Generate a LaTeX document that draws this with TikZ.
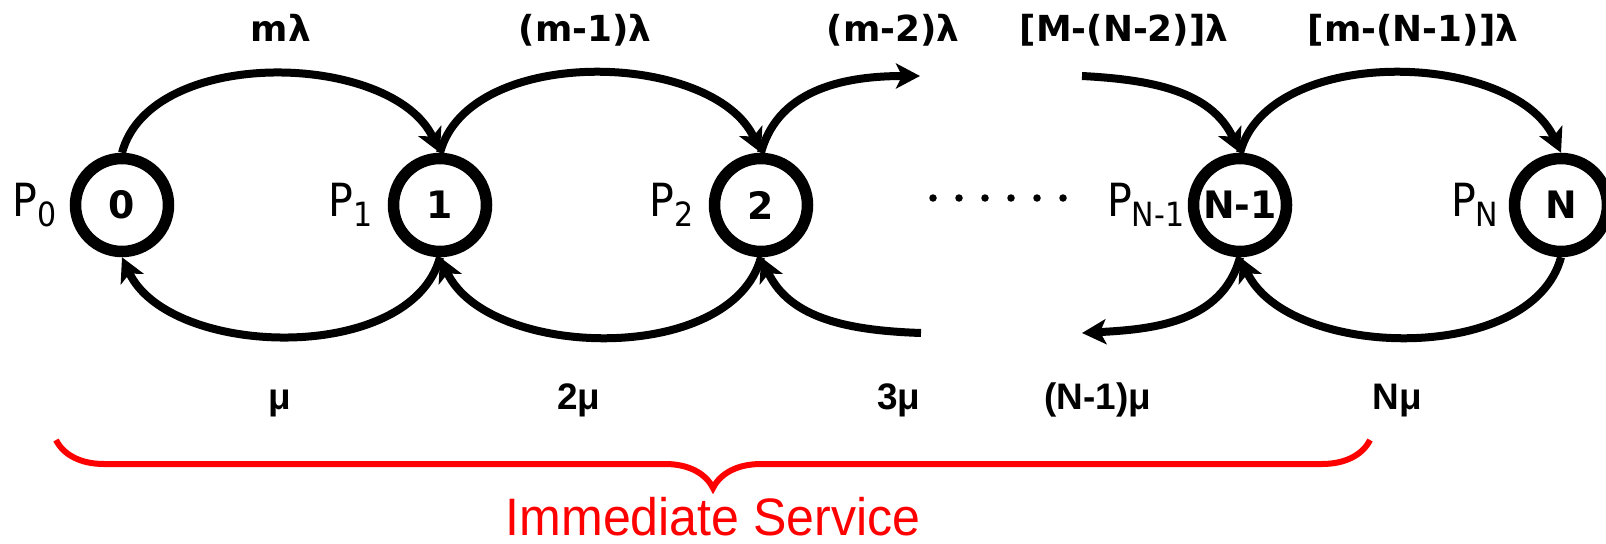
\documentclass[tikz,border=0pt]{standalone}
\usepackage{fontspec}
\setmainfont{DejaVu Sans}
\newfontfamily\labelfam{DejaVu Sans}[FakeStretch=0.9]
\newfontfamily\ratefam{Liberation Sans}
\newfontfamily\servicefam{Liberation Sans}[FakeStretch=0.95]
\usetikzlibrary{arrows.meta, positioning, decorations.pathreplacing}

\newcommand{\statefont}{\fontsize{21.5}{24}\selectfont\bfseries}
\newcommand{\probfont}{\fontsize{26}{28}\selectfont\labelfam}
\newcommand{\lamfont}{\fontsize{20.4}{24}\selectfont\bfseries}
\newcommand{\mufont}{\fontsize{21}{24}\selectfont\ratefam\bfseries}
\newcommand{\servicefont}{\fontsize{30}{34}\selectfont\servicefam}
\newcommand{\pstate}[1]{P\raisebox{-0.22em}{\fontsize{19}{21}\selectfont #1}}

\begin{document}
\begin{tikzpicture}[x=0.2mm, y=0.2mm,
		state/.style = {draw, circle, line width=2.3mm, minimum size=18.6mm, inner sep=0pt, font=\statefont},
		prob/.style = {inner sep=0pt, font=\probfont},
		lamrate/.style = {anchor=base, inner sep=0pt, font=\lamfont},
		murate/.style = {anchor=base, inner sep=0pt, font=\mufont},
		gapdot/.style = {circle, fill, inner sep=0pt, minimum size=1.5mm},
		trans/.style = {->, line width=1.6mm},
		brace/.style = {red, line width=1.2mm, decorate, decoration={brace, mirror, amplitude=9.6mm}},
		>={Stealth[length=4.8mm, width=5mm, inset=1.2mm]}
		]
		\useasboundingbox (0,0) rectangle (1606,543);
		
		% --- STATES ---
		\node [state] (n0)  at (122, 338)  {0};
		\node [state] (n1)  at (440, 338)  {1};
		\node [state] (n2)  at (761, 338)  {2};
		\node [state] (nN1) at (1240, 338) {N-1};
		\node [state] (nN)  at (1561, 338) {N};
		
		% --- PROBABILITIES ---
		\node [prob, left=2.6mm of n0]  (p0)  {\pstate{0}};
		\node [prob, left=3mm of n1]    (p1)  {\pstate{1}};
		\node [prob, left=3mm of n2]    (p2)  {\pstate{2}};
		\node [prob, left=0.6mm of nN1] (pN1) {\pstate{N-1}};
		\node [prob, left=2mm of nN]    (pN)  {\pstate{N}};
		
		% truncated chain
		\foreach \i in {0,...,5}
			\node [gapdot] (dot\i) at (933+26*\i, 345) {};
		
		% --- OPEN ENDS ---
		\coordinate (up_out) at (920, 467);
		\coordinate (up_in)  at (1082, 467);
		\coordinate (dn_in)  at (921, 210);
		\coordinate (dn_out) at (1082, 210);
		
		% --- ARRIVALS (top) ---
		\draw [trans] (n0.north) to[out=75, in=115, looseness=0.9] (n1.north);
		\draw [trans] (n1.north) to[out=75, in=115, looseness=0.9] (n2.north);
		\draw [trans] (n2.north) to[out=75, in=180] (up_out);
		\draw [trans] (up_in) to[out=-3, in=115] (nN1.north);
		\draw [trans] (nN1.north) to[out=75, in=115, looseness=0.9] (nN.north);
		
		% --- SERVICES (bottom) ---
		\draw [trans] (n1.south) to[out=-105, in=-65, looseness=0.9] (n0.south);
		\draw [trans] (n2.south) to[out=-105, in=-65, looseness=0.9] (n1.south);
		\draw [trans] (dn_in) to[out=178, in=-65] (n2.south);
		\draw [trans] (nN1.south) to[out=-105, in=3] (dn_out);
		\draw [trans] (nN.south) to[out=-105, in=-65, looseness=0.9] (nN1.south);
		
		% --- RATES ---
		\node [lamrate] (lam0)  at (281, 501)  {mλ};
		\node [lamrate] (lam1)  at (585, 501)  {(m-1)λ};
		\node [lamrate] (lam2)  at (893, 501)  {(m-2)λ};
		\node [lamrate] (lamN2) at (1124, 501) {[M-(N-2)]λ};
		\node [lamrate] (lamN1) at (1413, 501) {[m-(N-1)]λ};
		
		\node [murate] (mu1)  at (280, 134)  {μ};
		\node [murate] (mu2)  at (579, 134)  {2μ};
		\node [murate] (mu3)  at (899, 134)  {3μ};
		\node [murate] (muN1) at (1098, 134) {(N-1)μ};
		\node [murate] (muN)  at (1397, 134) {Nμ};
		
		% --- IMMEDIATE SERVICE ---
		\coordinate (brace_l) at (56, 103);
		\coordinate (brace_r) at (1370, 103);
		\draw [brace] (brace_l) -- (brace_r);
		\node [anchor=base, inner sep=0pt, text=red, font=\servicefont] (service) at (713, 8) {Immediate Service};
		
	\end{tikzpicture}
\end{document}
